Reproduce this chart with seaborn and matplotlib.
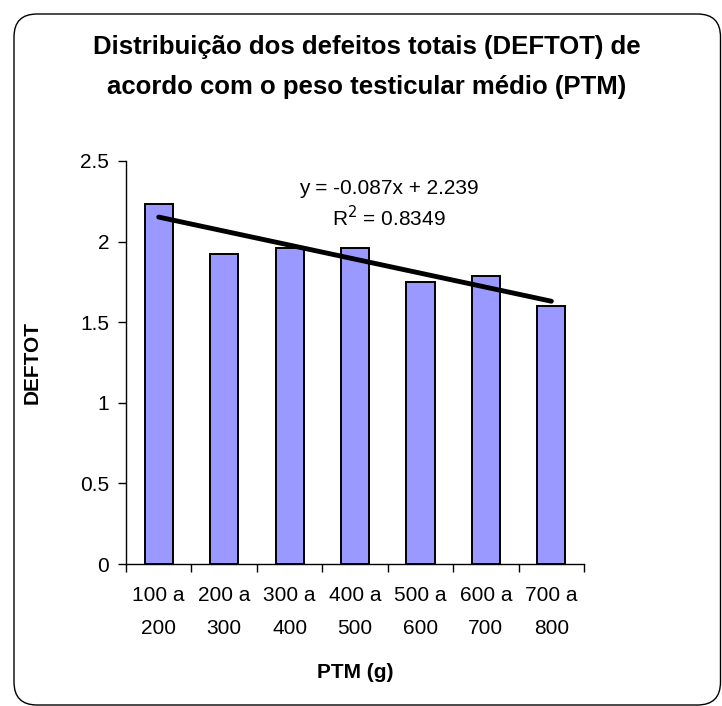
import matplotlib
matplotlib.use("Agg")
import matplotlib.pyplot as plt
import seaborn as sns
import numpy as np
import pandas as pd
from matplotlib.patches import FancyBboxPatch

categories = ["100 a\n200", "200 a\n300", "300 a\n400", "400 a\n500", "500 a\n600", "600 a\n700", "700 a\n800"]
deftot = [2.233, 1.923, 1.958, 1.958, 1.747, 1.787, 1.600]
trend_slope = -0.087
trend_intercept = 2.239
r_squared = 0.8349
yticks = [0, 0.5, 1, 1.5, 2, 2.5]
ytick_labels = ["0", "0.5", "1", "1.5", "2", "2.5"]

sns.set_theme(style="white")
plt.rcParams['font.family'] = ['Liberation Sans', 'DejaVu Sans']
plt.rcParams['text.color'] = 'black'
plt.rcParams['axes.labelcolor'] = 'black'
plt.rcParams['xtick.color'] = 'black'
plt.rcParams['ytick.color'] = 'black'

FS = 15

fig = plt.figure(figsize=(7.22, 7.06), dpi=100)
ax = fig.add_axes([0.1745, 0.2011, 0.809 - 0.1745, 0.772 - 0.2011])

df = pd.DataFrame({"PTM": categories, "DEFTOT": deftot})
sns.barplot(data=df, x="PTM", y="DEFTOT", ax=ax, color="#9999FF", width=0.43,
            edgecolor="black", linewidth=1.4, saturation=1)

# trendline from given equation (x = 1..n)
xs = np.arange(1, len(categories) + 1)
ty = trend_slope * xs + trend_intercept
sns.lineplot(x=xs - 1, y=ty, ax=ax, color="black", linewidth=3.5)

ax.text(3.52, 2.33, "y = -0.087x + 2.239", ha="center", va="center", fontsize=FS)
ax.text(3.52, 2.15, "R$^2$ = %.4f" % r_squared, ha="center", va="center", fontsize=FS)

ax.set_xlim(-0.5, len(categories) - 0.5)
ax.set_ylim(0, 2.5)
ax.set_yticks(yticks)
ax.set_yticklabels(ytick_labels, fontsize=FS)
ax.set_xticks(range(len(categories)))
ax.set_xticklabels(categories, fontsize=FS, linespacing=1.95)
ax.tick_params(axis="x", length=0, pad=16)
ax.tick_params(axis="y", length=6, width=1, direction="out", left=True, pad=6)
ax.set_xticks(np.arange(-0.5, len(categories), 1.0), minor=True)
ax.tick_params(axis="x", which="minor", length=6, width=1, direction="out", bottom=True)

for s in ["top", "right"]:
    ax.spines[s].set_visible(False)
for s in ["left", "bottom"]:
    ax.spines[s].set_color("black")
    ax.spines[s].set_linewidth(1)

ax.set_xlabel("PTM (g)", fontsize=FS, fontweight="bold", labelpad=18)
ax.set_ylabel("DEFTOT", fontsize=FS, fontweight="bold", labelpad=28)

fig.text(0.508, 0.905, "Distribuição dos defeitos totais (DEFTOT) de\nacordo com o peso testicular médio (PTM)",
         ha="center", va="center", fontsize=18.5, fontweight="bold", linespacing=1.8)

border = FancyBboxPatch((0.14, 0.01), 7.065, 6.91, boxstyle="round,pad=0,rounding_size=0.23",
                        transform=fig.dpi_scale_trans, facecolor="none", edgecolor="black", linewidth=1.0)
fig.patches.append(border)

fig.savefig("out.png", dpi=100, facecolor="white")
